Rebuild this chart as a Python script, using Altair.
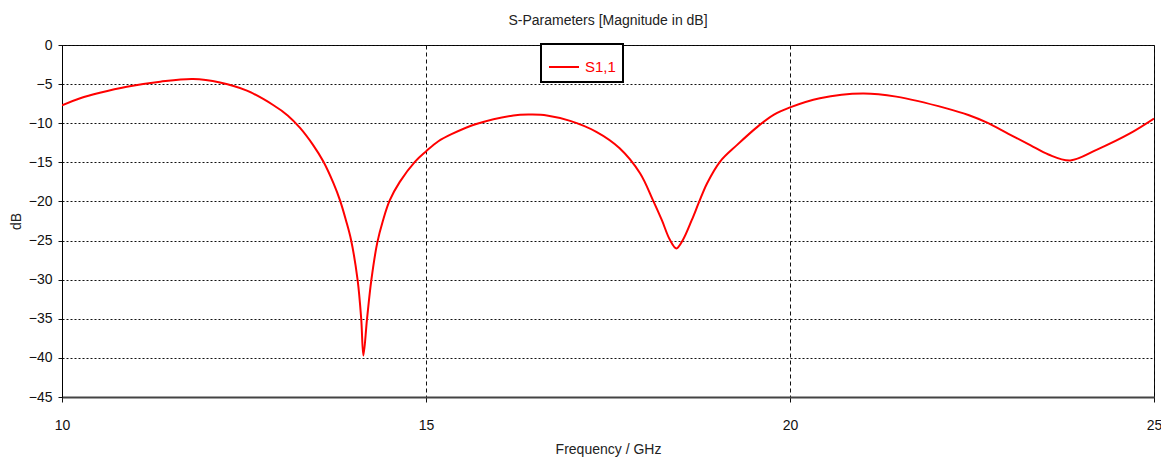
import altair as alt
import pandas as pd

freq = [10.0, 10.25, 10.52, 10.89, 11.35, 11.8, 12.17, 12.54, 12.9, 13.1, 13.27, 13.45, 13.59,
        13.73, 13.82, 13.9, 13.97, 14.06, 14.11, 14.14, 14.19, 14.25, 14.33, 14.41, 14.5,
        14.64, 14.85, 15.0, 15.17, 15.35, 15.69, 16.2, 16.45, 16.66, 16.98, 17.34, 17.66,
        17.94, 18.12, 18.24, 18.35, 18.44, 18.53, 18.65, 18.75, 18.86, 19.04, 19.27, 19.56,
        19.78, 20.0, 20.41, 21.0, 21.46, 22.15, 22.45, 22.7, 23.0, 23.3, 23.55, 23.85, 24.21,
        24.67, 25.0]
s11 = [-7.7, -6.8, -6.1, -5.33, -4.69, -4.35, -4.8, -5.84, -7.67, -9.0, -10.6, -12.8, -14.9,
       -17.7, -19.9, -22.4, -24.9, -30.0, -35.0, -39.7, -35.0, -30.0, -25.3, -22.4, -19.9,
       -17.5, -14.9, -13.6, -12.3, -11.4, -10.1, -9.0, -8.9, -9.0, -9.7, -11.1, -13.2,
       -16.4, -19.9, -22.4, -24.9, -26.0, -24.9, -22.4, -20.1, -17.7, -14.9, -12.8, -10.4,
       -8.9, -7.97, -6.8, -6.2, -6.6, -8.1, -8.95, -9.9, -11.35, -12.8, -14.0, -14.75, -13.4,
       -11.3, -9.4]
series_name = "S1,1"
x_ticks = [10, 15, 20, 25]
y_ticks = [-45, -40, -35, -30, -25, -20, -15, -10, -5, 0]

df = pd.DataFrame({"Frequency": freq, "S11": s11, "Series": [series_name] * len(freq)})

font = "Liberation Sans, Arial, sans-serif"

chart = alt.Chart(df).mark_line(strokeWidth=2, interpolate="catmull-rom", clip=True).encode(
    x=alt.X("Frequency:Q",
            scale=alt.Scale(domain=[10, 25], nice=False, zero=False),
            axis=alt.Axis(title="Frequency / GHz", values=x_ticks, gridDash=[4, 3],
                          gridColor="#111", gridOpacity=1, domainColor="#444", domainWidth=2,
                          tickColor="#111", tickSize=5, labelPadding=16, titlePadding=10,
                          labelFlush=False, labelFontSize=14, titleFontSize=14)),
    y=alt.Y("S11:Q",
            scale=alt.Scale(domain=[-45, 0], nice=False),
            axis=alt.Axis(title="dB", values=y_ticks, gridDash=[2, 2],
                          gridColor="#111", gridOpacity=1, domainColor="#000", domainWidth=1,
                          tickColor="#111", tickSize=4, labelPadding=6, titlePadding=5,
                          labelFontSize=14, titleFontSize=14)),
    color=alt.Color("Series:N", scale=alt.Scale(domain=[series_name], range=["#ff0000"]),
                    legend=alt.Legend(title=None, orient="none", legendX=479, legendY=-1,
                                      strokeColor="#000", fillColor="#ffffff", padding=7,
                                      symbolType="stroke", symbolSize=900, symbolStrokeWidth=2,
                                      labelColor="#ff0000", labelFontSize=15, labelFont=font,
                                      labelOffset=5)),
).properties(
    width=1092, height=352,
    title=alt.TitleParams("S-Parameters [Magnitude in dB]", anchor="middle", fontSize=14,
                          font=font, fontWeight="normal", color="#222", offset=10,
                          frame="group"),
    autosize=alt.AutoSizeParams(type="none"),
    padding={"left": 54, "top": 37, "right": 7, "bottom": 60},
).configure_view(
    stroke="#000", strokeWidth=1
).configure_axis(
    labelFont=font, titleFont=font, labelColor="#111", titleColor="#222",
    titleFontWeight="normal"
).configure_legend(
    strokeWidth=2
)

chart.save("out.html", embed_options={"renderer": "svg", "actions": False})
